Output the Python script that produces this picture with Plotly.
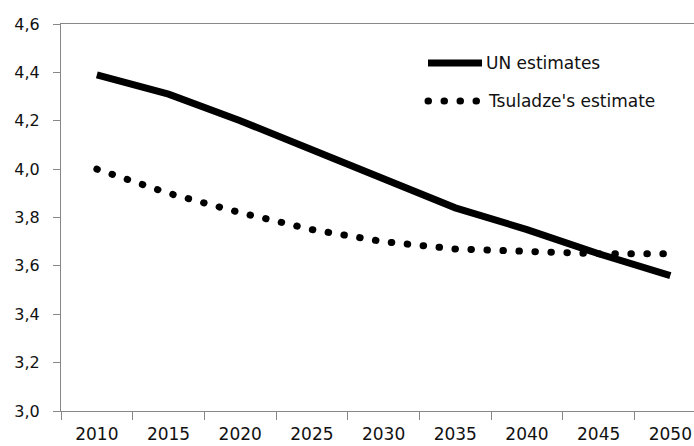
import plotly.graph_objects as go

years = ["2010", "2015", "2020", "2025", "2030", "2035", "2040", "2045", "2050"]
un_estimates = [4.39, 4.31, 4.20, 4.08, 3.96, 3.84, 3.75, 3.65, 3.56]
tsuladze_estimate = [4.00, 3.90, 3.82, 3.75, 3.70, 3.67, 3.66, 3.65, 3.65]
series_names = ["UN estimates", "Tsuladze's estimate"]

W, H = 694, 446
L, T, B = 61, 24, 35
pw, ph = W - L, H - T - B

def px(x):
    return (x - L) / pw

def py(y):
    return (H - B - y) / ph

DOT = "0.5px,15.5px"

fig = go.Figure()
fig.add_trace(go.Scatter(x=years, y=un_estimates, mode="lines", name=series_names[0],
                         line=dict(color="black", width=7), showlegend=False))
fig.add_trace(go.Scatter(x=years, y=tsuladze_estimate, mode="lines", name=series_names[1],
                         line=dict(color="black", width=7, dash=DOT), showlegend=False))

font_family = "DejaVu Sans"
# manual legend
fig.add_shape(type="line", xref="paper", yref="paper", x0=px(428), x1=px(482), y0=py(63), y1=py(63),
              line=dict(color="black", width=7))
fig.add_shape(type="line", xref="paper", yref="paper", x0=px(428), x1=px(480), y0=py(101), y1=py(101),
              line=dict(color="black", width=7, dash=DOT))
fig.add_annotation(xref="paper", yref="paper", x=px(484), y=py(63), text=series_names[0], showarrow=False,
                   xanchor="left", yanchor="middle", font=dict(family=font_family, size=17, color="#111"))
fig.add_annotation(xref="paper", yref="paper", x=px(486), y=py(101), text=series_names[1], showarrow=False,
                   xanchor="left", yanchor="middle", font=dict(family=font_family, size=17, color="#111"))

fig.update_layout(
    width=W, height=H,
    margin=dict(l=L, r=0, t=T, b=B, autoexpand=False),
    paper_bgcolor="white", plot_bgcolor="white",
    separators=",.",
    font=dict(family=font_family, color="#111"),
    xaxis=dict(type="category", range=[-0.5, 8.33], tickson="boundaries", ticks="outside", ticklen=8,
               tickcolor="#888", linecolor="#888", linewidth=1, showline=True, mirror=True,
               showgrid=False, zeroline=False, tickfont=dict(size=17), ticklabelstandoff=8,
               automargin=False),
    yaxis=dict(range=[3.0, 4.6], dtick=0.2, tick0=3.0, tickformat=".1f", ticks="outside", ticklen=7,
               tickcolor="#888", linecolor="#888", linewidth=1, showline=True, mirror=True,
               showgrid=False, zeroline=False, tickfont=dict(size=16), ticklabelstandoff=10,
               automargin=False),
)

post = """
document.body.style.margin = '0';
document.body.style.padding = '0';
function roundDots(){
  document.querySelectorAll('path').forEach(function(p){
    var d = p.style.strokeDasharray || p.getAttribute('stroke-dasharray') || '';
    if (d && d !== 'none' && d.indexOf('0.5') === 0) { p.style.strokeLinecap = 'round'; }
  });
}
roundDots();
var gd = document.getElementById('{plot_id}');
if (gd && gd.on) { gd.on('plotly_afterplot', roundDots); }
"""

fig.write_html("out.html", post_script=post, config={"displayModeBar": False})
